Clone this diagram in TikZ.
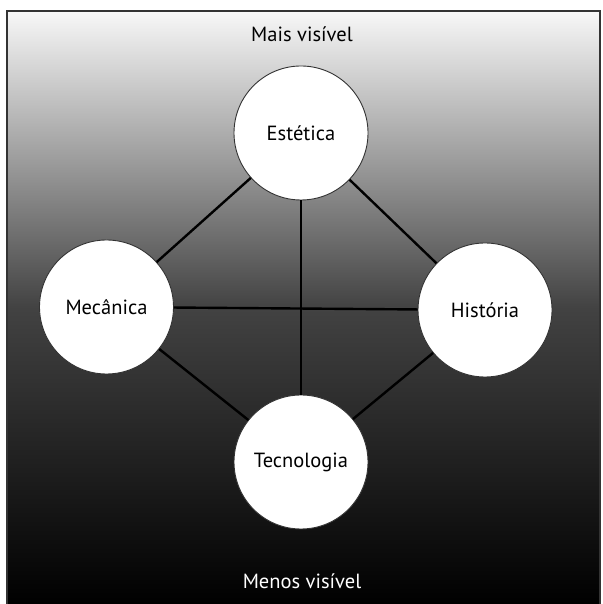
\documentclass[tikz,border=0pt]{standalone}
\usepackage{fontspec}
\setmainfont{PT Sans}
\begin{document}
\begin{tikzpicture}[x=1pt,y=1pt,
  topic/.style={circle,draw=black!80,line width=0.9pt,fill=white,minimum size=134pt,inner sep=0pt,font=\fontsize{20.5}{22}\selectfont},
  link/.style={line width=2.4pt,black},
  caption/.style={font=\fontsize{20.5}{22}\selectfont}]
\useasboundingbox (0,0) rectangle (602,604);
\fill[white] (0,0) rectangle (602,604);
\shade[top color=gray!6,bottom color=black,middle color=gray!52!black] (7,0) rectangle (600,593);
\draw[black!80,line width=1.5pt] (7,-2) -- (7,593) -- (600,593) -- (600,-2);
\node[topic] (E) at (301,471) {Estética};
\node[topic] (M) at (106.5,297) {Mecânica};
\node[topic] (H) at (485,294) {História};
\node[topic] (T) at (301,142) {Tecnologia};
\draw[link] (E) -- (M);
\draw[link] (E) -- (H);
\draw[link] (E) -- (T);
\draw[link] (M) -- (H);
\draw[link] (M) -- (T);
\draw[link] (H) -- (T);
\node[caption,text=black] (top) at (302,570) {Mais visível};
\node[caption,text=white] (bottom) at (302,23) {Menos visível};
\end{tikzpicture}
\end{document}
